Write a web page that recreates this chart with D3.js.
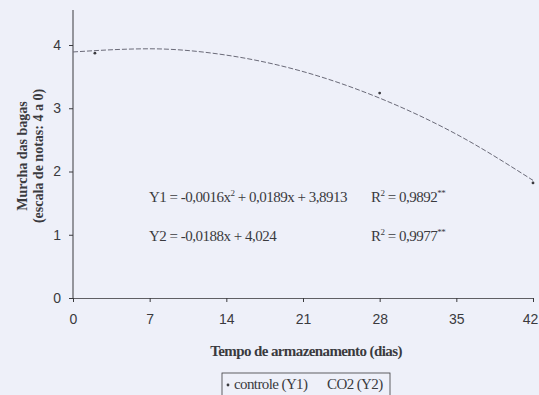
<!DOCTYPE html>
<html>
<head>
<meta charset="utf-8">
<script src="https://cdn.jsdelivr.net/npm/d3@7/dist/d3.min.js"></script>
<style>
  html, body { margin: 0; padding: 0; background: #eef0f9; }
  svg { display: block; font-family: "Liberation Serif", "Times New Roman", serif; }
</style>
</head>
<body>
<div id="chart"></div>
<script>
  // Observed points, controle (Y1)
  const obsDays = [2, 28, 42];
  const obsValues = [3.87, 3.24, 1.82];

  // Fitted curve Y1
  const fitDays = [0, 7, 14, 21, 28, 35, 42];
  const fitValues = [3.89, 3.94, 3.84, 3.58, 3.16, 2.59, 1.86];

  const xTicks = [0, 7, 14, 21, 28, 35, 42];
  const yTicks = [0, 1, 2, 3, 4];

  const W = 539, H = 395;
  const ink = '#3a3a3e';

  const svg = d3.select('#chart').append('svg')
    .attr('width', W).attr('height', H);

  const x = d3.scaleLinear().domain([0, 42]).range([73, 533]);
  const y = d3.scaleLinear().domain([0, 4]).range([298, 45]);

  // Y axis
  svg.append('line')
    .attr('x1', x(0)).attr('x2', x(0))
    .attr('y1', 10).attr('y2', y(0))
    .attr('stroke', ink).attr('stroke-width', 1);

  svg.append('g')
    .attr('transform', `translate(${x(0)},0)`)
    .call(d3.axisLeft(y).tickValues(yTicks).tickSize(4).tickPadding(8).tickFormat(d3.format('d')))
    .call(g => g.select('.domain').remove())
    .call(g => g.selectAll('line').attr('stroke', ink))
    .call(g => g.selectAll('text').attr('fill', ink).style('font-size', '14px'));

  // X axis
  svg.append('g')
    .attr('transform', `translate(0,${y(0)})`)
    .call(d3.axisBottom(x).tickValues(xTicks).tickSize(4).tickPadding(12).tickSizeOuter(0))
    .call(g => g.select('.domain').attr('stroke', ink).attr('stroke-width', 0.8))
    .call(g => g.selectAll('line').attr('stroke', ink))
    .call(g => g.selectAll('text').attr('fill', ink).style('font-size', '14px'))
    .call(g => g.selectAll('.tick text').filter(d => d === 42).attr('dx', -3));

  // Axis titles
  const yTitle = svg.append('text')
    .attr('transform', 'translate(0,156) rotate(-90)')
    .attr('text-anchor', 'middle')
    .attr('fill', ink)
    .style('font-size', '14px')
    .style('font-weight', 'bold');
  yTitle.append('tspan').attr('x', 0).attr('y', 27).text('Murcha das bagas');
  yTitle.append('tspan').attr('x', 0).attr('y', 43).text('(escala de notas: 4 a 0)');

  svg.append('text')
    .attr('x', 306).attr('y', 356)
    .attr('text-anchor', 'middle')
    .attr('fill', ink)
    .style('font-size', '15px')
    .style('font-weight', 'bold')
    .style('letter-spacing', '-0.6px')
    .text('Tempo de armazenamento (dias)');

  // Fitted curve
  const line = d3.line()
    .x((d, i) => x(fitDays[i]))
    .y(d => y(d))
    .curve(d3.curveMonotoneX);

  svg.append('path')
    .datum(fitValues)
    .attr('d', line)
    .attr('fill', 'none')
    .attr('stroke', '#6a6a78')
    .attr('stroke-width', 1)
    .attr('stroke-dasharray', '5,2');

  // Observed points
  svg.selectAll('circle.obs')
    .data(obsValues)
    .enter()
    .append('circle')
    .attr('class', 'obs')
    .attr('cx', (d, i) => x(obsDays[i]))
    .attr('cy', d => y(d))
    .attr('r', 1.4)
    .attr('fill', ink);

  // Equations
  const eq = svg.append('g')
    .attr('fill', ink)
    .style('font-size', '15px')
    .style('letter-spacing', '-0.5px');

  const e1 = eq.append('text').attr('x', 149).attr('y', 202);
  e1.append('tspan').text('Y1 = -0,0016x');
  e1.append('tspan').attr('dy', -6).style('font-size', '9px').text('2');
  e1.append('tspan').attr('dy', 6).text(' + 0,0189x + 3,8913');

  const r1 = eq.append('text').attr('x', 371).attr('y', 202);
  r1.append('tspan').text('R');
  r1.append('tspan').attr('dy', -6).style('font-size', '9px').text('2');
  r1.append('tspan').attr('dy', 6).text(' = 0,9892');
  r1.append('tspan').attr('dy', -6).style('font-size', '9px').text('**');

  eq.append('text').attr('x', 149).attr('y', 241).text('Y2 = -0,0188x + 4,024');

  const r2 = eq.append('text').attr('x', 371).attr('y', 241);
  r2.append('tspan').text('R');
  r2.append('tspan').attr('dy', -6).style('font-size', '9px').text('2');
  r2.append('tspan').attr('dy', 6).text(' = 0,9977');
  r2.append('tspan').attr('dy', -6).style('font-size', '9px').text('**');

  // Legend
  const legend = svg.append('g');
  legend.append('rect')
    .attr('x', 222).attr('y', 373)
    .attr('width', 168).attr('height', 30)
    .attr('fill', 'none')
    .attr('stroke', ink).attr('stroke-width', 0.8);
  legend.append('circle')
    .attr('cx', 228).attr('cy', 385).attr('r', 1.4).attr('fill', ink);
  legend.append('text')
    .attr('x', 234).attr('y', 389)
    .attr('fill', ink)
    .style('font-size', '15px')
    .style('letter-spacing', '-0.6px')
    .text('controle (Y1)');
  legend.append('text')
    .attr('x', 327).attr('y', 389)
    .attr('fill', ink)
    .style('font-size', '15px')
    .style('letter-spacing', '-0.6px')
    .text('CO2 (Y2)');
</script>
</body>
</html>
